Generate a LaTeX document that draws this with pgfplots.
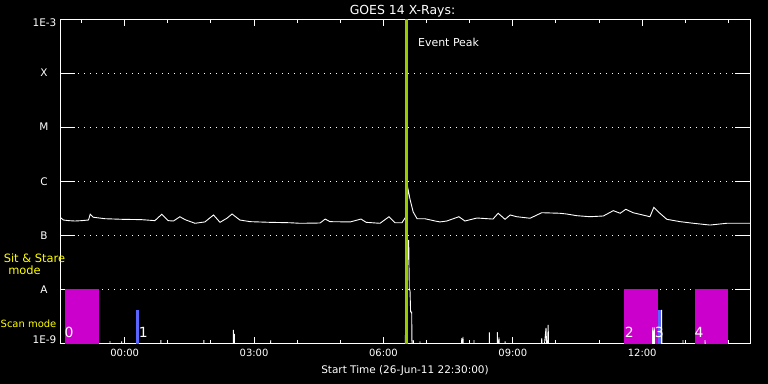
\documentclass[border=0pt]{standalone}
\usepackage{pgfplots}
\pgfplotsset{compat=1.18}
\usepackage{fontspec}
\setmainfont{DejaVu Sans}
\definecolor{magbar}{RGB}{204,0,204}
\definecolor{bluebar}{RGB}{90,100,255}
\definecolor{peakc}{RGB}{153,204,0}
\definecolor{labyel}{RGB}{255,255,0}
\newcommand{\fs}[1]{\fontsize{#1}{#1}\selectfont}
\begin{document}
\begin{tikzpicture}
\path[use as bounding box] (0,0) rectangle (768bp,384bp);
\fill[black] (0,0) rectangle (768bp,384bp);
\begin{axis}[
  at={(60bp,40.5bp)}, anchor=south west,
  width=690bp, height=324.5bp, scale only axis,
  ymode=log, ymin=1e-9, ymax=1e-3,
  xmin=-1.5, xmax=14.5,
  axis line style={white, line width=1bp},
  xtick={0,3,6,9,12}, xticklabels={00:00,03:00,06:00,09:00,12:00},
  minor xtick={-1,1,2,4,5,7,8,10,11,13,14},
  ytick={1e-9,1e-8,1e-7,1e-6,1e-5,1e-4,1e-3},
  yticklabels={,A,B,C,M,X,},
  yminorticks=false,
  tick align=inside,
  xtick pos=both, ytick pos=both,
  xticklabel pos=bottom, yticklabel pos=left,
  tick style={white, line width=1bp},
  xtick style={/pgfplots/major tick length=7bp, /pgfplots/minor tick length=3.5bp},
  ytick style={/pgfplots/major tick length=15bp},
  ymajorgrids,
  major grid style={white, line width=1bp, dash pattern=on 1bp off 5bp},
  ticklabel style={white, font=\fs{10.5}},
  xticklabel style={yshift=-2bp, font=\fs{10}},
  yticklabel style={anchor=center, xshift=-16bp},
  xlabel={Start Time (26-Jun-11 22:30:00)},
  xlabel style={white, font=\fs{10.5}, at={(axis description cs:0.5,0)}, anchor=base, yshift=-29.5bp},
]
% Sit & Stare / scan mode blocks
\addplot[fill=magbar, draw=none] coordinates {(-1.384,1e-9) (-1.384,1e-8) (-0.596,1e-8) (-0.596,1e-9)} -- cycle;
\addplot[fill=magbar, draw=none] coordinates {(11.58,1e-9) (11.58,1e-8) (12.37,1e-8) (12.37,1e-9)} -- cycle;
\addplot[fill=magbar, draw=none] coordinates {(13.22,1e-9) (13.22,1e-8) (14.00,1e-8) (14.00,1e-9)} -- cycle;
\addplot[fill=bluebar, draw=none] coordinates {(0.262,1e-9) (0.262,4.2e-9) (0.332,4.2e-9) (0.332,1e-9)} -- cycle;
\addplot[fill=bluebar, draw=none] coordinates {(12.367,1e-9) (12.367,4.2e-9) (12.437,4.2e-9) (12.437,1e-9)} -- cycle;
% long channel
\addplot[white, line width=0.9bp] table {
-1.50 2.16e-7
-1.42 1.92e-7
-1.30 1.87e-7
-1.15 1.84e-7
-1.00 1.87e-7
-0.84 1.92e-7
-0.80 2.45e-7
-0.73 2.16e-7
-0.46 2.03e-7
-0.07 1.98e-7
0.39 1.95e-7
0.70 1.87e-7
0.86 2.45e-7
1.01 1.87e-7
1.13 1.84e-7
1.28 2.21e-7
1.40 1.95e-7
1.63 1.67e-7
1.86 1.77e-7
2.06 2.38e-7
2.21 1.74e-7
2.37 2.07e-7
2.49 2.48e-7
2.67 1.92e-7
2.91 1.79e-7
3.37 1.74e-7
3.83 1.71e-7
4.07 1.67e-7
4.53 1.69e-7
4.65 2.00e-7
4.76 1.79e-7
5.23 1.77e-7
5.48 2.00e-7
5.60 1.74e-7
5.92 1.67e-7
6.13 2.21e-7
6.27 1.71e-7
6.43 1.71e-7
6.50 2.09e-7
6.54 2.30e-7
6.57 7.19e-7
6.62 4.50e-7
6.69 2.70e-7
6.78 2.03e-7
6.96 2.03e-7
7.20 1.84e-7
7.31 1.77e-7
7.47 1.84e-7
7.75 2.21e-7
7.89 1.84e-7
8.17 2.09e-7
8.54 2.00e-7
8.66 2.56e-7
8.82 1.98e-7
8.94 2.38e-7
9.09 2.21e-7
9.40 2.07e-7
9.67 2.62e-7
10.09 2.56e-7
10.25 2.48e-7
10.48 2.31e-7
10.79 2.21e-7
11.10 2.28e-7
11.33 2.86e-7
11.49 2.56e-7
11.62 3.03e-7
11.79 2.62e-7
12.18 2.21e-7
12.27 3.30e-7
12.41 2.56e-7
12.57 1.98e-7
12.88 1.79e-7
13.19 1.67e-7
13.57 1.55e-7
13.96 1.67e-7
14.42 1.67e-7
14.50 1.67e-7
};
% short channel
\addplot[white, line width=0.9bp] table {
-1.500 5e-10
-0.345 5e-10
-0.341 1.11e-9
-0.335 5e-10
-0.073 5e-10
-0.069 1.11e-9
-0.063 5e-10
0.834 5e-10
0.838 1.16e-9
0.844 5e-10
1.831 5e-10
1.835 1.16e-9
1.841 5e-10
2.515 5e-10
2.519 1.78e-9
2.530 5e-10
2.542 1.50e-9
2.550 5e-10
3.382 5e-10
3.386 1.16e-9
3.395 5e-10
6.500 5e-10
6.516 2.53e-9
6.550 2.0e-8
6.586 8.2e-8
6.600 9.75e-9
6.616 9.75e-9
6.630 3.82e-9
6.655 3.82e-9
6.665 5e-10
6.688 5e-10
6.692 1.16e-9
6.700 5e-10
6.844 5e-10
6.848 1.10e-9
6.855 5e-10
7.811 5e-10
7.815 1.26e-9
7.830 5e-10
7.845 1.32e-9
7.855 5e-10
8.096 5e-10
8.100 1.16e-9
8.106 5e-10
8.451 5e-10
8.455 1.61e-9
8.462 5e-10
8.636 5e-10
8.640 1.63e-9
8.660 5e-10
8.680 1.30e-9
8.690 5e-10
8.816 5e-10
8.820 1.10e-9
8.826 5e-10
9.666 5e-10
9.670 1.26e-9
9.700 5e-10
9.770 1.94e-9
9.795 5e-10
9.820 2.20e-9
9.835 5e-10
12.240 5e-10
12.244 1.99e-9
12.260 5e-10
12.280 1.99e-9
12.290 5e-10
12.448 5e-10
12.452 4.20e-9
12.458 5e-10
12.942 5e-10
12.946 1.16e-9
12.952 5e-10
13.453 5e-10
13.457 1.16e-9
13.463 5e-10
14.500 5e-10
};
% event peak marker
\addplot[peakc, line width=2.4bp] coordinates {(6.535,1e-9) (6.535,1e-3)};
\node[white, font=\fs{11}, anchor=west, inner sep=0pt] at (axis cs:6.80,3.76e-4) {Event Peak};
\node[white, font=\fs{14}, inner sep=0pt] at (axis cs:-1.291,1.6e-9) {0};
\node[white, font=\fs{14}, inner sep=0pt] at (axis cs:0.434,1.6e-9) {1};
\node[white, font=\fs{14}, inner sep=0pt] at (axis cs:11.703,1.6e-9) {2};
\node[white, font=\fs{14}, inner sep=0pt] at (axis cs:12.395,1.6e-9) {3};
\node[white, font=\fs{14}, inner sep=0pt] at (axis cs:13.319,1.6e-9) {4};
\end{axis}
\node[white, font=\fs{12.5}, anchor=base, inner sep=0pt] at (402.5bp,369bp) {GOES 14 X-Rays:};
\node[white, font=\fs{10.5}, inner sep=0pt] at (44.5bp,44.5bp) {1E-9};
\node[white, font=\fs{10.5}, inner sep=0pt] at (44.5bp,361bp) {1E-3};
\node[labyel, font=\fs{11.5}, anchor=base, inner sep=0pt] at (34.5bp,121bp) {Sit \& Stare};
\node[labyel, font=\fs{11.5}, anchor=base, inner sep=0pt] at (24.5bp,109bp) {mode};
\node[labyel, font=\fs{10}, anchor=base, inner sep=0pt] at (28.5bp,56bp) {Scan mode};
\end{tikzpicture}
\end{document}
